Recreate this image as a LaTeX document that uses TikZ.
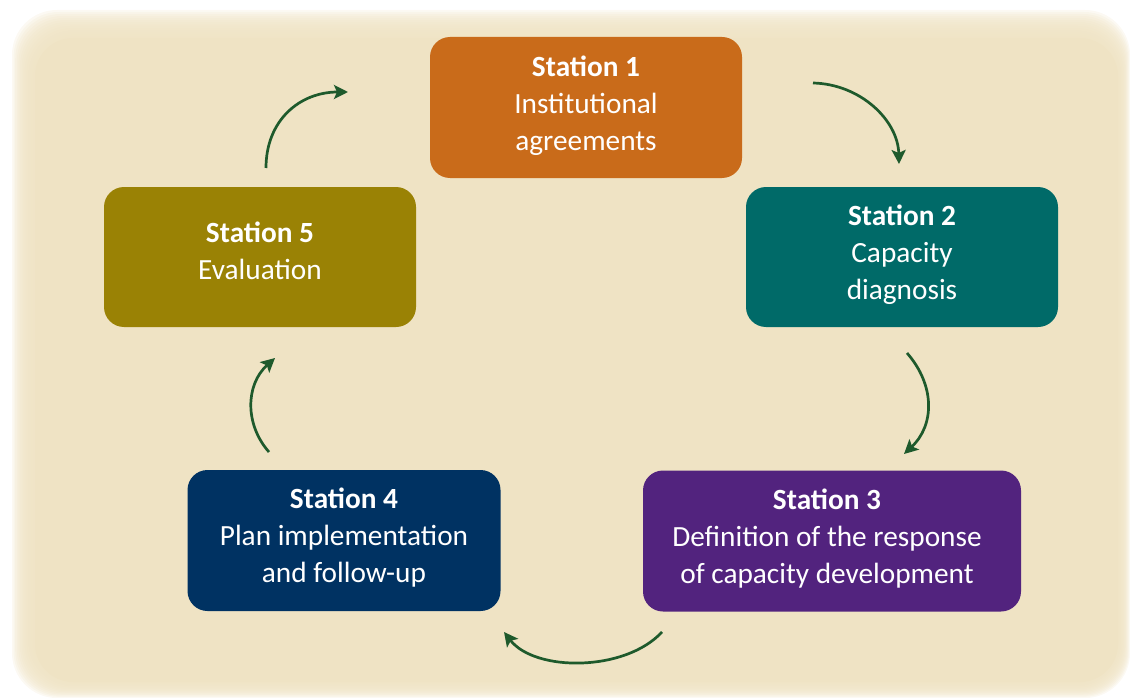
\documentclass[tikz,border=0pt]{standalone}
\usepackage{fontspec}
\setmainfont{Carlito}
\usetikzlibrary{arrows.meta}
\definecolor{bgc}{HTML}{EFE3C4}
\definecolor{c1}{HTML}{C96B1A}
\definecolor{c2}{HTML}{006A68}
\definecolor{c3}{HTML}{52237E}
\definecolor{c4}{HTML}{003262}
\definecolor{c5}{HTML}{9A8205}
\definecolor{arr}{HTML}{1E5A2C}
\tikzset{
  stationbox/.style={rectangle, rounded corners=20pt, inner sep=0pt},
  stationtext/.style={text=white, align=center, inner sep=0pt,
    font=\fontsize{29.3}{37}\selectfont},
  cyclearrow/.style={draw=arr, line width=2.7pt,
    -{Stealth[length=14pt,width=14pt,inset=3pt]}}
}
\begin{document}
\begin{tikzpicture}[x=1pt,y=-1pt]
\useasboundingbox (0,0) rectangle (1130,698);
% fuzzy background
\foreach \i in {0,...,13}{
  \fill[bgc, fill opacity=0.2, rounded corners=45pt]
    ({12+\i*1.6},{10+\i*2.0}) rectangle ({1130-\i*0.85},{698-\i*1.15});
}
\fill[bgc, rounded corners=38pt] (35,38) rectangle (1118,682);
% stations
\node[stationbox, fill=c1, minimum width=312pt, minimum height=141pt] (s1) at (586,107.5) {};
\node[stationbox, fill=c2, minimum width=312pt, minimum height=140pt] (s2) at (902,257) {};
\node[stationbox, fill=c3, minimum width=378pt, minimum height=141pt] (s3) at (832,541) {};
\node[stationbox, fill=c4, minimum width=313pt, minimum height=141pt] (s4) at (344,540.5) {};
\node[stationbox, fill=c5, minimum width=312pt, minimum height=140pt] (s5) at (260,257) {};
\node[stationtext] (t1) at (586,106) {\textbf{Station 1}\\Institutional\\agreements};
\node[stationtext] (t2) at (902,255) {\textbf{Station 2}\\Capacity\\diagnosis};
\node[stationtext] (t3) at (827,538.5) {\textbf{Station 3}\\Definition of the response\\of capacity development};
\node[stationtext] (t4) at (344,538) {\textbf{Station 4}\\Plan implementation\\and follow-up};
\node[stationtext] (t5) at (260,251) {\textbf{Station 5}\\Evaluation};
% arrow end points
\coordinate (a12s) at (813,83);   \coordinate (a12e) at (899,164);
\coordinate (a23s) at (907,353);  \coordinate (a23e) at (904,454);
\coordinate (a34s) at (662,632);  \coordinate (a34e) at (504,632);
\coordinate (a45s) at (269,452);  \coordinate (a45e) at (275,358);
\coordinate (a51s) at (266,168);  \coordinate (a51e) at (348,92);
\draw[cyclearrow] (a12s) .. controls (860,84) and (898,120) .. (a12e);
\draw[cyclearrow] (a23s) .. controls (935,385) and (935,425) .. (a23e);
\draw[cyclearrow] (a34s) .. controls (625,672) and (535,672) .. (a34e);
\draw[cyclearrow] (a45s) .. controls (245,425) and (245,385) .. (a45e);
\draw[cyclearrow] (a51s) .. controls (266,120) and (300,92) .. (a51e);
\end{tikzpicture}
\end{document}
